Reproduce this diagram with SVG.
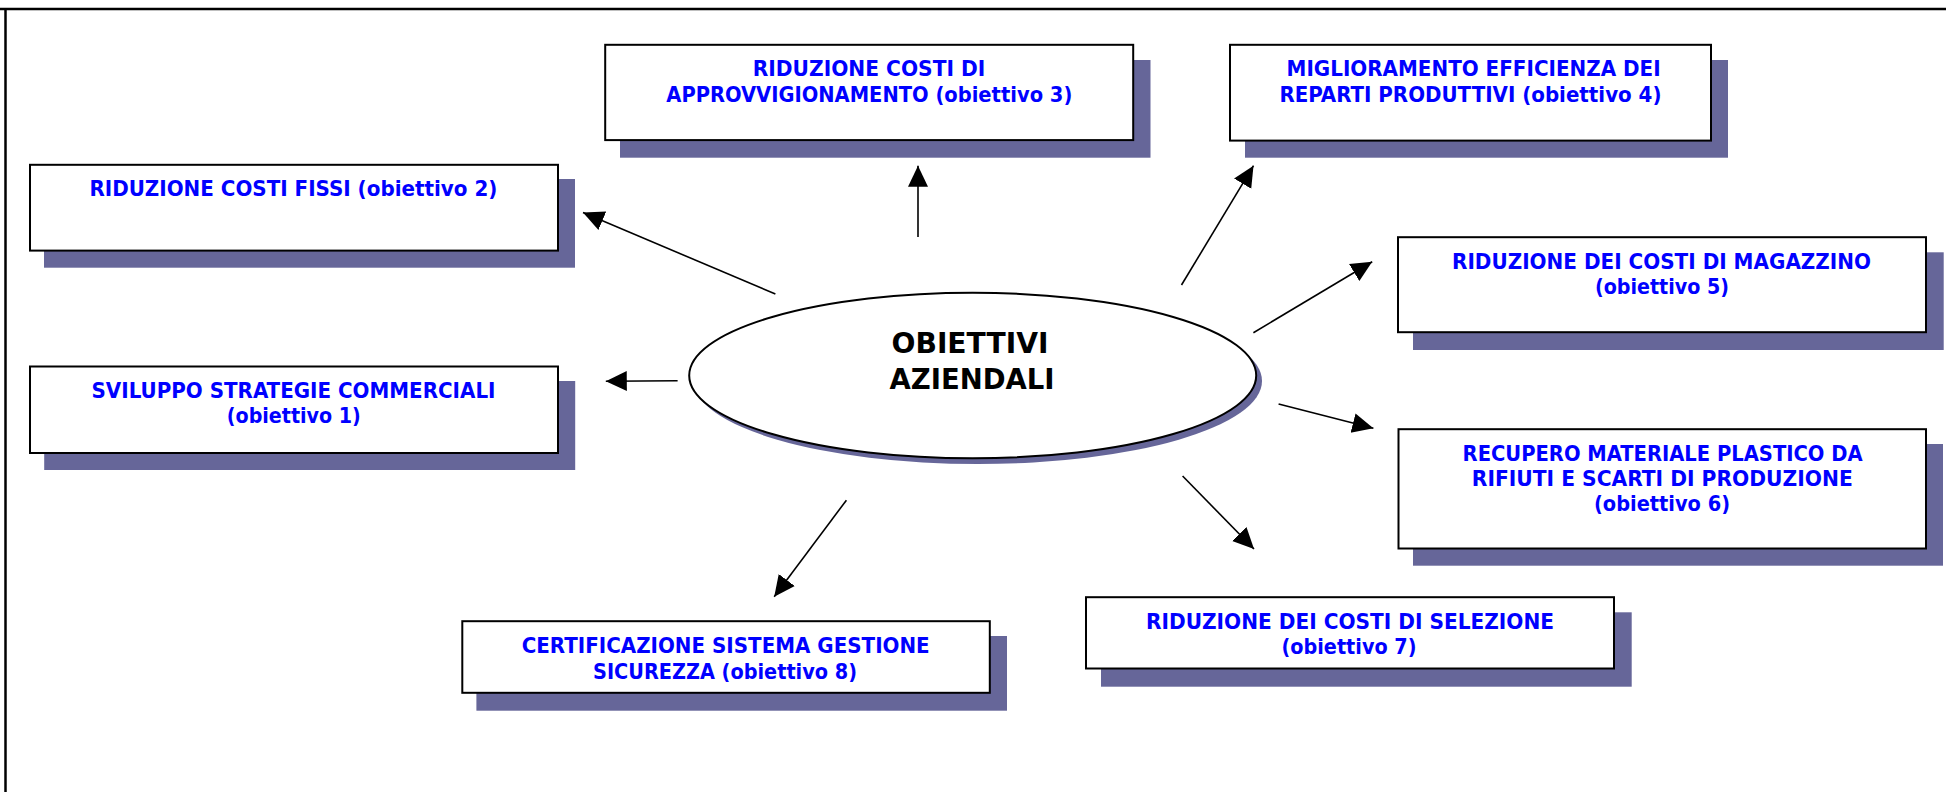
<svg xmlns="http://www.w3.org/2000/svg" width="1946" height="792" viewBox="0 0 1946 792">
<style>
.box{fill:#fff;stroke:#000;stroke-width:2}
.sh{fill:#666699}
.t{font-family:"DejaVu Sans Condensed","DejaVu Sans","Liberation Sans",sans-serif;font-weight:bold;font-size:22px;fill:#0000ff;text-anchor:middle}
.c{font-family:"DejaVu Sans Condensed","DejaVu Sans","Liberation Sans",sans-serif;font-weight:bold;font-size:28px;fill:#000;text-anchor:middle}
.ln{stroke:#000;stroke-width:1.6;fill:none;marker-end:url(#ah)}
</style>
<defs>
<marker id="ah" markerUnits="userSpaceOnUse" markerWidth="22" markerHeight="22" viewBox="0 0 22 22" refX="21" refY="11" orient="auto">
<path d="M0,1 L21,11 L0,21 z" fill="#000"/>
</marker>
</defs>
<rect width="1946" height="792" fill="#fff"/>
<g id="frame" stroke="#000" stroke-width="2.5">
<line x1="0" y1="9" x2="1946" y2="9"/>
<line x1="5.5" y1="9" x2="5.5" y2="792"/>
</g>
<g id="center">
<ellipse cx="978" cy="381" rx="284" ry="83" class="sh"/>
<ellipse cx="972.7" cy="375.5" rx="283.5" ry="82.8" fill="#fff" stroke="#000" stroke-width="2"/>
<text class="c" x="970" y="353" textLength="157" lengthAdjust="spacingAndGlyphs">OBIETTIVI</text>
<text class="c" x="972" y="388.5" textLength="165" lengthAdjust="spacingAndGlyphs">AZIENDALI</text>
</g>
<g id="obj1">
<rect class="sh" x="44.2" y="381" width="531" height="89"/>
<rect class="box" x="30" y="366.5" width="528" height="86.5"/>
<text class="t" x="293.5" y="397.7" textLength="404" lengthAdjust="spacingAndGlyphs">SVILUPPO STRATEGIE COMMERCIALI</text>
<text class="t" x="293.8" y="423.3" textLength="134" lengthAdjust="spacingAndGlyphs">(obiettivo 1)</text>
</g>
<g id="obj2">
<rect class="sh" x="44" y="179" width="531" height="88.7"/>
<rect class="box" x="30" y="164.8" width="528" height="85.8"/>
<text class="t" x="293.4" y="196" textLength="408" lengthAdjust="spacingAndGlyphs">RIDUZIONE COSTI FISSI (obiettivo 2)</text>
</g>
<g id="obj3">
<rect class="sh" x="620" y="60" width="530.5" height="97.7"/>
<rect class="box" x="605.2" y="44.8" width="528" height="95.3"/>
<text class="t" x="869" y="76" textLength="232.5" lengthAdjust="spacingAndGlyphs">RIDUZIONE COSTI DI</text>
<text class="t" x="869.3" y="101.7" textLength="406" lengthAdjust="spacingAndGlyphs">APPROVVIGIONAMENTO (obiettivo 3)</text>
</g>
<g id="obj4">
<rect class="sh" x="1245" y="60" width="483" height="97.7"/>
<rect class="box" x="1230" y="44.8" width="481" height="95.8"/>
<text class="t" x="1473.6" y="76" textLength="374" lengthAdjust="spacingAndGlyphs">MIGLIORAMENTO EFFICIENZA DEI</text>
<text class="t" x="1470.5" y="101.7" textLength="382" lengthAdjust="spacingAndGlyphs">REPARTI PRODUTTIVI (obiettivo 4)</text>
</g>
<g id="obj5">
<rect class="sh" x="1413" y="252.3" width="530.7" height="97.7"/>
<rect class="box" x="1398" y="237.2" width="528" height="95"/>
<text class="t" x="1661.5" y="268.7" textLength="419" lengthAdjust="spacingAndGlyphs">RIDUZIONE DEI COSTI DI MAGAZZINO</text>
<text class="t" x="1662" y="294" textLength="134" lengthAdjust="spacingAndGlyphs">(obiettivo 5)</text>
</g>
<g id="obj6">
<rect class="sh" x="1413" y="444" width="530" height="121.7"/>
<rect class="box" x="1398.5" y="429.2" width="527.5" height="119.3"/>
<text class="t" x="1662.6" y="460.7" textLength="400" lengthAdjust="spacingAndGlyphs">RECUPERO MATERIALE PLASTICO DA</text>
<text class="t" x="1662.3" y="486" textLength="381" lengthAdjust="spacingAndGlyphs">RIFIUTI E SCARTI DI PRODUZIONE</text>
<text class="t" x="1662" y="511.3" textLength="136" lengthAdjust="spacingAndGlyphs">(obiettivo 6)</text>
</g>
<g id="obj7">
<rect class="sh" x="1101" y="612.3" width="530.7" height="74.4"/>
<rect class="box" x="1086" y="597.2" width="528" height="71.3"/>
<text class="t" x="1350" y="628.7" textLength="408" lengthAdjust="spacingAndGlyphs">RIDUZIONE DEI COSTI DI SELEZIONE</text>
<text class="t" x="1349" y="654" textLength="135" lengthAdjust="spacingAndGlyphs">(obiettivo 7)</text>
</g>
<g id="obj8">
<rect class="sh" x="476.4" y="636" width="530.6" height="74.7"/>
<rect class="box" x="462.3" y="621.2" width="527.5" height="71.6"/>
<text class="t" x="725.7" y="652.7" textLength="408" lengthAdjust="spacingAndGlyphs">CERTIFICAZIONE SISTEMA GESTIONE</text>
<text class="t" x="725" y="679" textLength="264" lengthAdjust="spacingAndGlyphs">SICUREZZA (obiettivo 8)</text>
</g>
<g id="connectors">
<line class="ln" x1="677.6" y1="380.7" x2="605.8" y2="381.3"/>
<line class="ln" x1="775.4" y1="294" x2="583" y2="212.5"/>
<line class="ln" x1="918" y1="237" x2="918" y2="165.7"/>
<line class="ln" x1="1181.5" y1="285" x2="1253.5" y2="165.7"/>
<line class="ln" x1="1253.4" y1="332.7" x2="1372.2" y2="261.7"/>
<line class="ln" x1="1278.6" y1="404" x2="1373.4" y2="428.3"/>
<line class="ln" x1="1182.6" y1="476" x2="1254" y2="549"/>
<line class="ln" x1="846.4" y1="500.2" x2="774.2" y2="596.8"/>
</g>
</svg>
